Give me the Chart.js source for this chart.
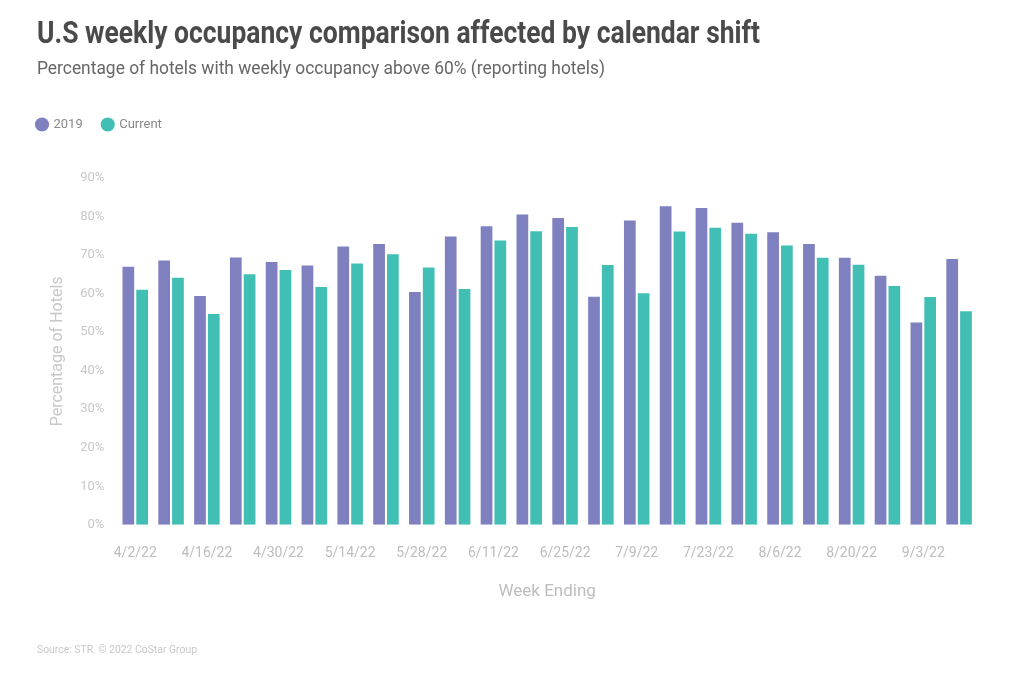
<!DOCTYPE html>
<html>
<head>
<meta charset="utf-8">
<script src="https://cdn.jsdelivr.net/npm/chart.js@4"></script>
<style>
  html, body { margin: 0; padding: 0; background: #fff; }
  body { width: 1024px; height: 673px; position: relative; overflow: hidden; font-family: Roboto, sans-serif; }
  .t { position: absolute; left: 37px; white-space: nowrap; transform-origin: 0 0; }
  #title { top: 14px; font-size: 31px; font-weight: bold; color: #4a4a4a; }
  #subtitle { top: 57px; font-size: 18px; color: #666; }
  #source { top: 644px; font-size: 10px; color: #c8c8c8; }
  #wrap { position: absolute; left: 0; top: 0; width: 1024px; height: 673px; }
</style>
</head>
<body>
<div id="wrap"><canvas id="c"></canvas></div>
<div id="title" class="t" data-w="723">U.S weekly occupancy comparison affected by calendar shift</div>
<div id="subtitle" class="t" data-w="568">Percentage of hotels with weekly occupancy above 60% (reporting hotels)</div>
<div id="source" class="t" data-w="160">Source: STR. © 2022 CoStar Group</div>
<script>
const weeks = ["4/2/22","4/9/22","4/16/22","4/23/22","4/30/22","5/7/22","5/14/22","5/21/22","5/28/22","6/4/22","6/11/22","6/18/22","6/25/22","7/2/22","7/9/22","7/16/22","7/23/22","7/30/22","8/6/22","8/13/22","8/20/22","8/27/22","9/3/22","9/10/22"];
const values2019 = [67,68.6,59.4,69.4,68.2,67.3,72.2,72.9,60.4,74.8,77.5,80.5,79.6,59.2,79.0,82.7,82.2,78.4,75.9,72.9,69.3,64.6,52.5,69.0];
const valuesCurrent = [61,64.1,54.7,65,66.1,61.7,67.8,70.2,66.8,61.2,73.8,76.2,77.3,67.4,60.1,76.1,77.1,75.5,72.5,69.3,67.5,62,59.1,55.4];
const yTicks = [0,10,20,30,40,50,60,70,80,90];

// condense HTML text to the reference widths
document.querySelectorAll('.t').forEach(el => {
  const w = el.getBoundingClientRect().width;
  const target = +el.dataset.w;
  if (w > 0) el.style.transform = 'scaleX(' + (target / w) + ')';
});

Chart.defaults.font.family = 'Roboto, sans-serif';

const legendMargin = {
  id: 'legendMargin',
  beforeInit(chart) {
    const fit = chart.legend.fit;
    chart.legend.fit = function() { fit.bind(chart.legend)(); this.height += 37; };
  }
};

new Chart(document.getElementById('c'), {
  type: 'bar',
  data: {
    labels: weeks,
    datasets: [
      { label: '2019', data: values2019, backgroundColor: '#7f80bf', borderWidth: 0 },
      { label: 'Current', data: valuesCurrent, backgroundColor: '#41bfb4', borderWidth: 0 }
    ]
  },
  plugins: [legendMargin],
  options: {
    responsive: true,
    maintainAspectRatio: false,
    animation: false,
    layout: { padding: { top: 98, left: 17, right: 47, bottom: 71 } },
    datasets: { bar: { categoryPercentage: 0.77, barPercentage: 0.85 } },
    plugins: {
      legend: {
        position: 'top',
        align: 'start',
        labels: {
          usePointStyle: true,
          pointStyle: 'circle',
          boxWidth: 10,
          boxHeight: 10,
          color: '#888',
          font: { size: 13 },
          padding: 20
        }
      },
      tooltip: { enabled: false }
    },
    scales: {
      x: {
        grid: { display: false, drawTicks: false },
        border: { display: false },
        ticks: {
          color: '#bdbdbd',
          font: { size: 14 },
          maxRotation: 0,
          autoSkip: false,
          padding: 20,
          callback: function(v, i) { return i % 2 === 0 ? weeks[i] : ''; }
        },
        title: { display: true, text: 'Week Ending', color: '#bdbdbd', font: { size: 17 }, padding: { top: 0, bottom: 0 } }
      },
      y: {
        min: 0, max: 90,
        grid: { display: false, drawTicks: false },
        border: { display: false },
        afterBuildTicks: function(axis) { axis.ticks = yTicks.map(v => ({ value: v })); },
        ticks: {
          color: '#c8c8c8',
          font: { size: 13 },
          padding: 13,
          callback: function(v) { return v + '%'; }
        },
        title: { display: true, text: 'Percentage of Hotels', color: '#c8c8c8', font: { size: 16 }, padding: { top: 31, bottom: 0 } }
      }
    }
  }
});
</script>
</body>
</html>
